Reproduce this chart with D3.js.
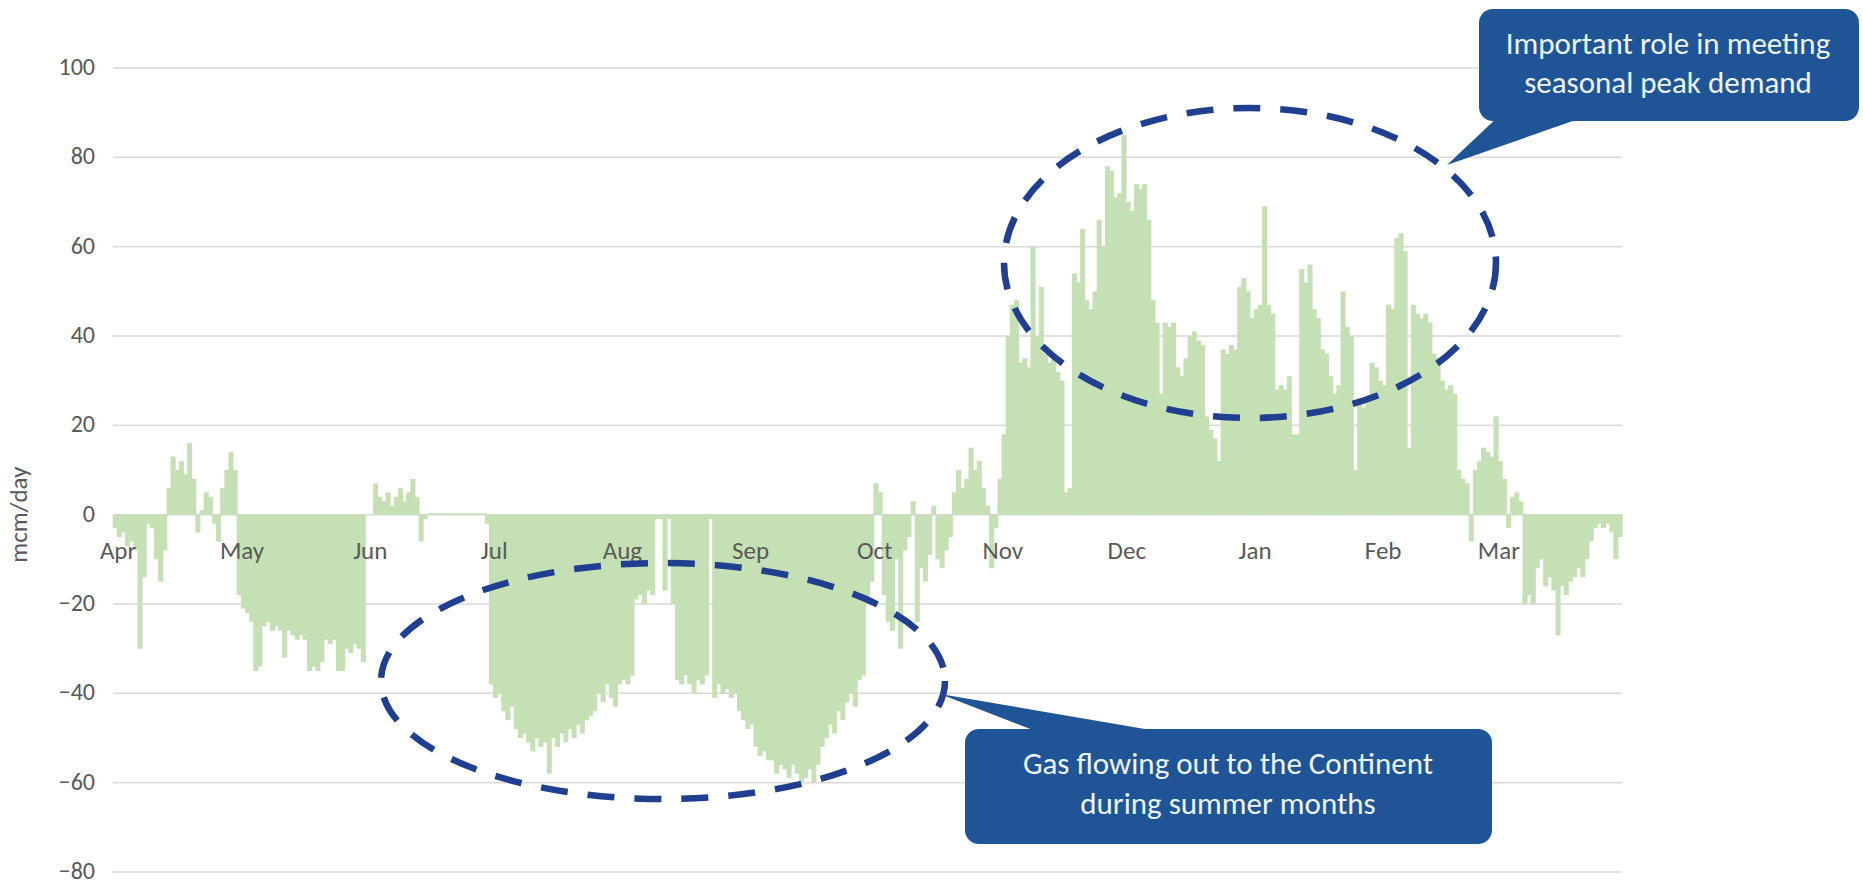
<!DOCTYPE html>
<html>
<head>
<meta charset="utf-8">
<script src="https://cdn.jsdelivr.net/npm/d3@7"></script>
<style>
  html, body { margin: 0; padding: 0; background: #ffffff; }
  svg { display: block; }
  text { font-family: Carlito, Lato, "Open Sans", sans-serif; }
</style>
</head>
<body>
<svg id="chart" width="1863" height="884"></svg>
<script>
// ---- Data (daily net flow, mcm/day), one array per month ----
const monthLabels = ["Apr","May","Jun","Jul","Aug","Sep","Oct","Nov","Dec","Jan","Feb","Mar"];
const apr = [-3,-5,-4,-7,-6,-8,-30,-14,-2,-3,-10,-15,-8,6,13,10,12,9,16,8,-4,1,5,4,-2,-6,6,10,14,10];
const may = [-18,-21,-22,-24,-35,-34,-25,-24,-26,-25,-26,-32,-26,-27,-28,-27,-28,-35,-34,-35,-33,-28,-29,-28,-35,-35,-30,-31,-29,-30,-33];
const jun = [0,0,7,4,3,5,2,4,6,3,5,8,4,-6,-1,0.3,0.3,0.3,0.3,0.3,0.3,0.3,0.3,0.3,0.3,0.3,0.3,0.3,0.3,-2];
const jul = [-38,-41,-40,-44,-46,-43,-48,-50,-49,-51,-53,-50,-52,-51,-58,-50,-52,-49,-51,-48,-50,-47,-49,-46,-45,-44,-40,-42,-38,-41,-43];
const aug = [-38,-37,-38,-36,-19,-18,-20,-17,-18,-1,-1,-17,-1,-20,-37,-38,-36,-38,-40,-37,-38,-36,-1,-41,-38,-40,-39,-41,-40,-44,-46];
const sep = [-48,-47,-52,-54,-53,-55,-55,-58,-56,-57,-59,-56,-58,-60,-59,-57,-60,-56,-52,-50,-47,-49,-44,-46,-42,-40,-43,-37,-36,-20];
const oct = [-15,7,5,-18,-24,-26,-10,-30,-8,-5,3,-24,-12,-15,-9,2,-10,-12,-8,-5,5,10,6,8,15,10,12,6,2,-12,-3];
const nov = [8,18,40,47,48,34,35,33,60,40,51,36,34,35,32,30,5,6,54,52,64,48,46,50,66,60,78,77,71,72];
const dec = [85,70,68,74,73,74,66,48,43,27,43,42,43,33,31,35,40,41,39,38,22,19,17,12,37,36,38,37,51,53,50];
const jan = [44,46,47,69,47,45,28,29,28,31,18,18,55,52,56,46,44,37,36,31,27,29,50,42,40,10,25,24,26,34,33];
const feb = [30,29,47,46,62,63,59,15,47,45,44,45,43,36,35,30,28,29,27,10,8,7,-6,10,12,15,14,13];
const mar = [22,12,8,-3,4,5,3,-20,-18,-20,-12,-10,-16,-14,-17,-27,-16,-18,-15,-14,-12,-14,-10,-6,-3,-2,-3,-2,-4,-10,-5];
const yTicks = [-80,-60,-40,-20,0,20,40,60,80,100];
const yTitle = "mcm/day";
const calloutTop = ["Important role in meeting","seasonal peak demand"];
const calloutBottom = ["Gas flowing out to the Continent","during summer months"];

const months = [apr,may,jun,jul,aug,sep,oct,nov,dec,jan,feb,mar];
const flows = [].concat(...months);
const monthStarts = [];
months.reduce((acc, m) => { monthStarts.push(acc); return acc + m.length; }, 0);

// ---- Layout ----
const svg = d3.select("#chart");
const plot = { left: 113, right: 1622, top: 68, bottom: 872 };

const x = d3.scaleBand().domain(d3.range(flows.length)).range([plot.left, plot.right]).padding(0);
const y = d3.scaleLinear().domain([-80, 100]).range([plot.bottom, plot.top]);

// Gridlines
svg.append("g").selectAll("line").data(yTicks).join("line")
  .attr("x1", plot.left).attr("x2", plot.right)
  .attr("y1", d => y(d)).attr("y2", d => y(d))
  .attr("stroke", "#d9d9d9").attr("stroke-width", 1.5);

// Y tick labels
const yAxis = d3.axisLeft(y).tickValues(yTicks).tickSize(0).tickPadding(18);
const yg = svg.append("g").attr("transform", `translate(${plot.left},0)`).call(yAxis);
yg.select(".domain").remove();
yg.selectAll("text").attr("font-size", 24).attr("fill", "#595959").attr("dy", "0.27em")
  .attr("font-family", "Carlito, Lato, sans-serif");

// Bars
svg.append("g").selectAll("rect").data(flows).join("rect")
  .attr("x", (d, i) => x(i) - 0.3)
  .attr("width", x.bandwidth() + 0.9)
  .attr("y", d => Math.min(y(d), y(0)))
  .attr("height", d => Math.abs(y(d) - y(0)))
  .attr("fill", "#c5e0b4");

// Month labels
svg.append("g").selectAll("text").data(monthLabels).join("text")
  .attr("x", (d, i) => x(monthStarts[i]) + x.bandwidth() / 2 + 3)
  .attr("y", y(0) + 44)
  .attr("text-anchor", "middle")
  .attr("font-size", 25).attr("fill", "#595959")
  .text(d => d);

// Y title
svg.append("text")
  .attr("transform", `translate(27,${y(0)}) rotate(-90)`)
  .attr("text-anchor", "middle")
  .attr("font-size", 25).attr("fill", "#595959")
  .text(yTitle);

// Dashed ellipses
const ell = svg.append("g").attr("fill", "none").attr("stroke", "#203f91")
  .attr("stroke-width", 6.5).attr("stroke-dasharray", "27 20");
ell.append("ellipse").attr("cx", 663).attr("cy", 681).attr("rx", 282).attr("ry", 118);
ell.append("ellipse").attr("cx", 1250).attr("cy", 263).attr("rx", 246).attr("ry", 155);

// Callouts
function callout(box, tail, lines, cx, lineYs) {
  const g = svg.append("g");
  g.append("path").attr("d", `M${tail[0][0]},${tail[0][1]} L${tail[1][0]},${tail[1][1]} L${tail[2][0]},${tail[2][1]} Z`)
    .attr("fill", "#1f5597");
  g.append("rect").attr("x", box.x).attr("y", box.y).attr("width", box.w).attr("height", box.h)
    .attr("rx", 14).attr("fill", "#1f5597");
  g.selectAll("text").data(lines).join("text")
    .attr("x", cx).attr("y", (d, i) => lineYs[i])
    .attr("text-anchor", "middle").attr("dominant-baseline", "middle")
    .attr("font-size", 31).attr("fill", "#eef3fb")
    .text(d => d);
}
callout({ x: 1479, y: 9, w: 380, h: 112 }, [[1500, 115], [1590, 115], [1447, 165]],
  calloutTop, 1668, [47, 86]);
callout({ x: 965, y: 729, w: 527, h: 115 }, [[1046, 735], [1180, 735], [940, 694]],
  calloutBottom, 1228, [767, 807]);
</script>
</body>
</html>
